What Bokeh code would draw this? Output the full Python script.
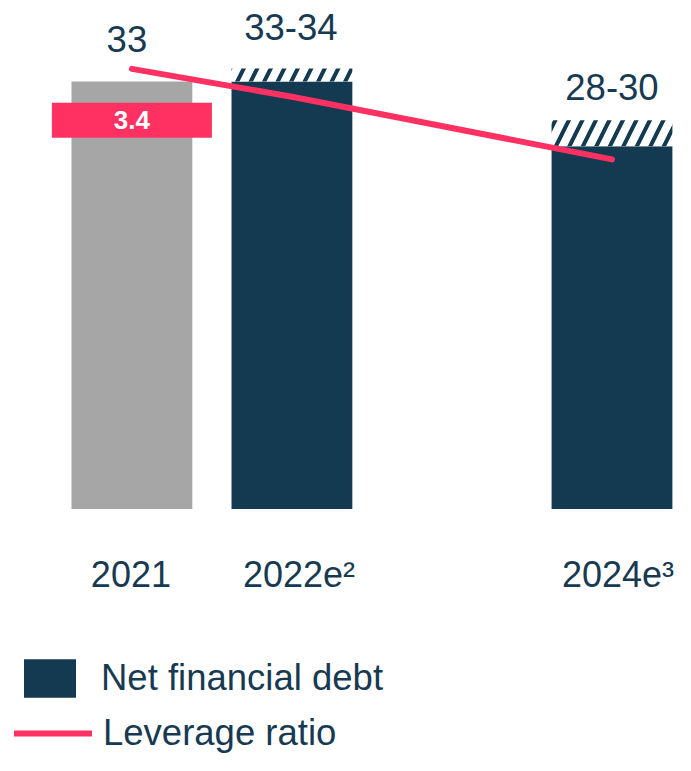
from bokeh.plotting import figure
from bokeh.models import Range1d, ColumnDataSource, Legend, LegendItem
from bokeh.embed import file_html
from bokeh.resources import INLINE
from bokeh.core.properties import value

# ---- data ----
years = [2021, 2022, 2024]
year_labels = ["2021", "2022e²", "2024e³"]
debt_low = [33, 33, 28]
debt_high = [33, 34, 30]
debt_labels = ["33", "33-34", "28-30"]
leverage = [3.4, 3.2, 2.75]
leverage_label = "3.4"

# ---- styles / layout ----
NAVY = "#133A51"
GREY = "#A6A6A6"
PINK = "#FF3162"
TEXT = "#173A52"
FONT = "Liberation Sans"
bar_colors = [GREY, NAVY, NAVY]
label_dx = [-5, -1, 0]
label_dy = [-42, -42, -33]
tick_dx = [-1, 7, 6]

W, H = 675, 755
p = figure(width=W, height=H, output_backend="svg", toolbar_location=None,
           x_range=Range1d(2020.1789, 2024.3969), y_range=Range1d(-19.027, 39.251),
           min_border=0, x_axis_location=None, y_axis_location=None)
p.extra_y_ranges = {"lev": Range1d(-1.5325, 3.8914)}
p.grid.visible = False
p.outline_line_color = None
p.background_fill_color = "white"
p.border_fill_color = "white"

src = ColumnDataSource(dict(x=years, low=debt_low, high=debt_high, color=bar_colors,
                            lab=debt_labels, tick=year_labels, dx=label_dx, dy=label_dy,
                            tdx=tick_dx, zero=[0] * len(years)))

bars = p.vbar(x="x", top="low", bottom=0, width=0.755, fill_color="color",
              line_color=None, source=src)
p.vbar(x="x", top="high", bottom="low", width=0.755, fill_color="white",
       line_color=None, hatch_pattern="/", hatch_color=NAVY, hatch_scale=27,
       hatch_weight=4, source=src)

# leverage badge for 2021
p.rect(x=[years[0]], y=[30], width=1.0, height=35, height_units="screen",
       fill_color=PINK, line_color=None)
p.text(x=[years[0]], y=[30], text=[leverage_label], text_color="white",
       text_font=value(FONT), text_font_style="bold", text_font_size="26px",
       text_align="center", text_baseline="alphabetic", y_offset=0)

lev_line = p.line(x=years, y=leverage, y_range_name="lev", line_width=6,
                  line_color=PINK, line_cap="round", line_join="round")

# value labels
p.text(x="x", y="high", text="lab", x_offset="dx", y_offset="dy", source=src,
       text_color=TEXT, text_font=value(FONT), text_font_size="36.5px",
       text_align="center", text_baseline="alphabetic")
# category labels
p.text(x="x", y="zero", text="tick", x_offset="tdx", y_offset=65, source=src,
       text_color=TEXT, text_font=value(FONT), text_font_size="36px",
       text_align="center", text_baseline="alphabetic")

common = dict(padding=0, margin=0, border_line_color=None, background_fill_alpha=0,
              label_text_font_size="36.5px", label_text_color=TEXT,
              label_text_font=FONT)
leg1 = Legend(items=[LegendItem(label="Net financial debt", renderers=[bars], index=1)],
              location=(17, 53), glyph_width=65, glyph_height=48, label_standoff=19,
              **common)
leg2 = Legend(items=[LegendItem(label="Leverage ratio", renderers=[lev_line])],
              location=(14, -3), glyph_width=78, glyph_height=50, label_standoff=11,
              **common)
p.add_layout(leg1)
p.add_layout(leg2)

open("out.html", "w").write(file_html(p, INLINE))
